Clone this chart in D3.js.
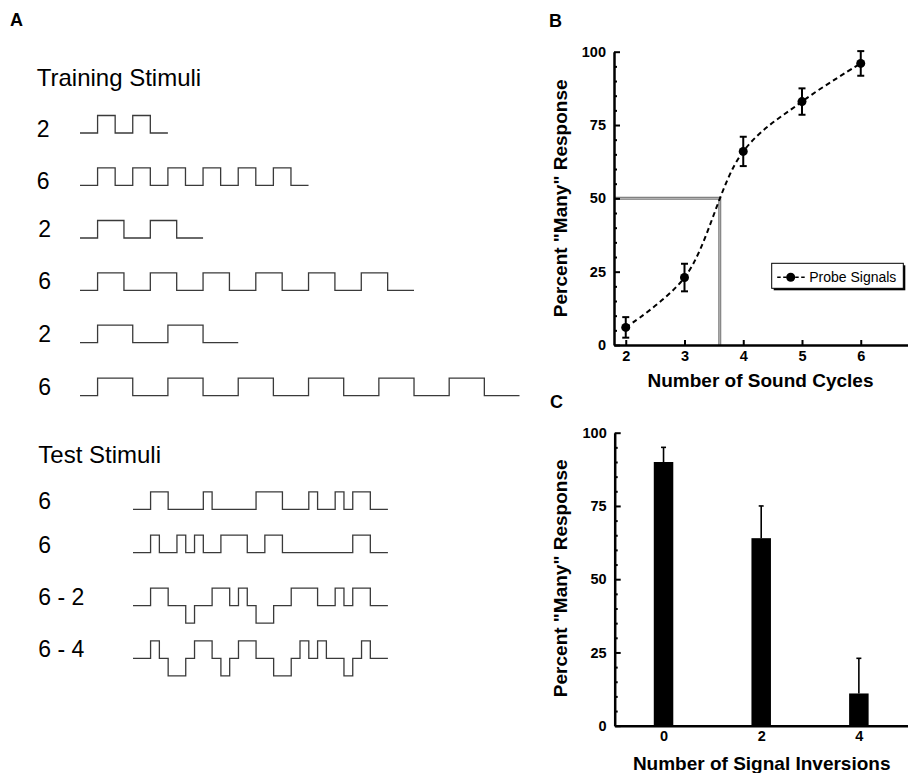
<!DOCTYPE html>
<html>
<head>
<meta charset="utf-8">
<script src="https://cdn.jsdelivr.net/npm/d3@7"></script>
<style>
  body { margin: 0; background: #fff; }
  svg { display: block; font-family: "Liberation Sans", Arial, Helvetica, sans-serif; }
  .axis path, .axis line { stroke: #000; }
  .axis text { font-weight: bold; font-size: 14.5px; fill: #000; }
  .wave { fill: none; stroke: #3a3a3a; stroke-width: 1.3; }
  .stimlabel { font-size: 23px; fill: #000; }
  .stimtitle { font-size: 24px; fill: #000; }
  .panel { font-size: 18px; font-weight: bold; }
  .axlabel { font-size: 19px; font-weight: bold; }
</style>
</head>
<body>
<svg width="908" height="773"></svg>
<script>
// ---- Data ----
// Panel A: stimuli as [level, duration] segments (level 1 = up, 0 = base, -1 = inverted)
const trainingLabels = ["2", "6", "2", "6", "2", "6"];
const trainingStimuli = [
  [[0,2],[1,2],[0,2],[1,2],[0,2]],
  [[0,2],[1,2],[0,2],[1,2],[0,2],[1,2],[0,2],[1,2],[0,2],[1,2],[0,2],[1,2],[0,2]],
  [[0,2],[1,3],[0,3],[1,3],[0,3]],
  [[0,2],[1,3],[0,3],[1,3],[0,3],[1,3],[0,3],[1,3],[0,3],[1,3],[0,3],[1,3],[0,3]],
  [[0,2],[1,4],[0,4],[1,4],[0,4]],
  [[0,2],[1,4],[0,4],[1,4],[0,4],[1,4],[0,4],[1,4],[0,4],[1,4],[0,4],[1,4],[0,4]]
];
const testLabels = ["6", "6", "6 - 2", "6 - 4"];
const testStimuli = [
  [[0,2],[1,2],[0,4],[1,1],[0,5],[1,3],[0,3],[1,1],[0,2],[1,1],[0,1],[1,2],[0,2]],
  [[0,2],[1,1],[0,2],[1,1],[0,1],[1,1],[0,2],[1,3],[0,2],[1,2],[0,8],[1,2],[0,2]],
  [[0,2],[1,2],[0,2],[-1,1],[0,2],[1,2],[0,1],[1,1],[0,1],[-1,2],[0,2],[1,3],[0,2],[1,1],[0,1],[1,2],[0,2]],
  [[0,2],[1,1],[0,1],[-1,2],[0,1],[1,2],[0,1],[-1,1],[0,1],[1,2],[0,2],[-1,2],[0,1],[1,1],[0,1],[1,1],[0,2],[-1,1],[0,1],[1,1],[0,2]]
];

// Panel B: probe signals
const cycles = [2, 3, 4, 5, 6];
const probeMean = [6, 23, 66, 83, 96];
const probeErr = [3.5, 4.7, 5, 4.5, 4.2];
const thresholdCycles = 3.6;
const thresholdPct = 50;

// Panel C: signal inversions
const inversions = [0, 2, 4];
const inversionMean = [90, 64, 11];
const inversionErr = [5, 11, 12];

const yTicks = [0, 25, 50, 75, 100];

// ---- Layout ----
const svg = d3.select("svg");
const unit = 8.79, amp = 17.5;
const trainBase = [133, 185.3, 238, 290.3, 342.7, 395.7];
const trainLabelY = [137, 189.3, 237, 289.3, 341.7, 395];
const testBase = [509.3, 552.7, 605.7, 658.3];
const testLabelY = [509.3, 553.3, 605, 656.7];

// Panel letters
svg.append("text").attr("class", "panel").attr("x", 10).attr("y", 26).text("A");
svg.append("text").attr("class", "panel").attr("x", 549).attr("y", 27).text("B");
svg.append("text").attr("class", "panel").attr("x", 550).attr("y", 408).text("C");

// ---- Panel A ----
function stepPoints(segs) {
  const pts = [];
  let t = 0;
  segs.forEach(([lv, d]) => { pts.push([t, lv]); t += d; });
  pts.push([t, segs[segs.length - 1][0]]);
  return pts;
}

function drawStimuli(stims, labels, bases, labelYs, x0, title, titleY, labelX) {
  svg.append("text").attr("class", "stimtitle").attr("x", labelX[0]).attr("y", titleY).text(title);
  const maxLen = d3.max(stims, s => d3.sum(s, d => d[1]));
  const x = d3.scaleLinear().domain([0, maxLen]).range([x0, x0 + maxLen * unit]);
  stims.forEach((s, i) => {
    const y = d3.scaleLinear().domain([-1, 1]).range([bases[i] + amp, bases[i] - amp]);
    const line = d3.line().x(d => x(d[0])).y(d => y(d[1])).curve(d3.curveStepAfter);
    svg.append("path").attr("class", "wave").attr("d", line(stepPoints(s)));
    svg.append("text").attr("class", "stimlabel")
      .attr("x", labelX[i + 1] !== undefined ? labelX[i + 1] : labelX[1])
      .attr("y", labelYs[i]).text(labels[i]);
  });
}

drawStimuli(trainingStimuli, trainingLabels, trainBase, trainLabelY, 80,
  "Training Stimuli", 86, [36.7, 36.7, 36.7, 38.3, 38.3, 38.3, 38.3]);
drawStimuli(testStimuli, testLabels, testBase, testLabelY, 133,
  "Test Stimuli", 463.3, [38.3, 38.3]);

// ---- Panel B ----
const xB = d3.scaleLinear().domain([1.8, 6.8]).range([614, 907.75]);
const yB = d3.scaleLinear().domain([0, 100]).range([345, 51.7]);

function yAxes(y, xPos) {
  svg.append("g").attr("class", "axis").attr("transform", `translate(${xPos},0)`)
    .call(d3.axisLeft(y).tickValues(d3.range(0, 101, 5).filter(v => v % 25)).tickSize(-3).tickFormat("").tickSizeOuter(0))
    .call(g => g.select(".domain").remove())
    .selectAll("line").attr("stroke-width", 2);
  svg.append("g").attr("class", "axis").attr("transform", `translate(${xPos},0)`)
    .call(d3.axisLeft(y).tickValues(yTicks).tickSize(-6).tickPadding(8).tickSizeOuter(0))
    .call(g => g.select(".domain").attr("stroke-width", 2.5))
    .call(g => g.selectAll("line").attr("stroke-width", 2));
}

// gray 50% reference lines
const refPath = d3.line()([[xB(1.8), yB(thresholdPct)], [xB(thresholdCycles), yB(thresholdPct)], [xB(thresholdCycles), yB(0)]]);
svg.append("path").attr("d", refPath).attr("fill", "none").attr("stroke", "#777").attr("stroke-width", 3);
svg.append("path").attr("d", refPath).attr("fill", "none").attr("stroke", "#bbb").attr("stroke-width", 1);

yAxes(yB, 614);
svg.append("g").attr("class", "axis").attr("transform", "translate(0,345)")
  .call(d3.axisBottom(xB).tickValues(cycles).tickFormat(d3.format("d")).tickSize(-5).tickPadding(6).tickSizeOuter(0))
  .call(g => g.select(".domain").attr("stroke-width", 2.5))
  .call(g => g.selectAll("line").attr("stroke-width", 2));

const probe = cycles.map((c, i) => ({ c, m: probeMean[i], e: probeErr[i] }));

svg.append("path")
  .attr("d", d3.line().x(d => xB(d.c)).y(d => yB(d.m)).curve(d3.curveCatmullRom.alpha(0.5))(probe))
  .attr("fill", "none").attr("stroke", "#000").attr("stroke-width", 2).attr("stroke-dasharray", "5,3.5");

const eb = svg.append("g").selectAll("g").data(probe).enter().append("g")
  .attr("stroke", "#000").attr("stroke-width", 2);
eb.append("line").attr("x1", d => xB(d.c)).attr("x2", d => xB(d.c))
  .attr("y1", d => yB(d.m - d.e)).attr("y2", d => yB(d.m + d.e));
eb.append("line").attr("x1", d => xB(d.c) - 3.5).attr("x2", d => xB(d.c) + 3.5)
  .attr("y1", d => yB(d.m + d.e)).attr("y2", d => yB(d.m + d.e));
eb.append("line").attr("x1", d => xB(d.c) - 3.5).attr("x2", d => xB(d.c) + 3.5)
  .attr("y1", d => yB(d.m - d.e)).attr("y2", d => yB(d.m - d.e));

svg.append("g").selectAll("circle").data(probe).enter().append("circle")
  .attr("cx", d => xB(d.c)).attr("cy", d => yB(d.m)).attr("r", 4.5).attr("fill", "#000");

// legend
const lg = svg.append("g").attr("transform", "translate(771.7,263.3)");
lg.append("rect").attr("x", 2).attr("y", 2).attr("width", 131.6).attr("height", 25).attr("fill", "#000");
lg.append("rect").attr("width", 131.6).attr("height", 25).attr("fill", "#fff").attr("stroke", "#000").attr("stroke-width", 1);
lg.append("line").attr("x1", 5.5).attr("x2", 35.5).attr("y1", 14).attr("y2", 14)
  .attr("stroke", "#000").attr("stroke-width", 1.5).attr("stroke-dasharray", "3.5,2.5");
lg.append("circle").attr("cx", 19).attr("cy", 14).attr("r", 4.5).attr("fill", "#000");
lg.append("text").attr("x", 37.5).attr("y", 19.2).attr("font-size", 14).text("Probe Signals");

svg.append("text").attr("class", "axlabel").attr("text-anchor", "middle")
  .attr("transform", "translate(567.3,198.3) rotate(-90)").text('Percent "Many" Response');
svg.append("text").attr("class", "axlabel").attr("text-anchor", "middle")
  .attr("x", 760.5).attr("y", 386.7).text("Number of Sound Cycles");

// ---- Panel C ----
const xC = d3.scaleLinear().domain([-1, 5]).range([614.7, 907.7]);
const yC = d3.scaleLinear().domain([0, 100]).range([725.7, 432.7]);
const barW = 19.5;
const inv = inversions.map((v, i) => ({ v, m: inversionMean[i], e: inversionErr[i] }));

const ebC = svg.append("g").selectAll("g").data(inv).enter().append("g")
  .attr("stroke", "#000").attr("stroke-width", 1.6);
ebC.append("line").attr("x1", d => xC(d.v)).attr("x2", d => xC(d.v))
  .attr("y1", d => yC(d.m)).attr("y2", d => yC(d.m + d.e));
ebC.append("line").attr("x1", d => xC(d.v) - 2.5).attr("x2", d => xC(d.v) + 2.5)
  .attr("y1", d => yC(d.m + d.e)).attr("y2", d => yC(d.m + d.e));

svg.append("g").selectAll("rect").data(inv).enter().append("rect")
  .attr("x", d => xC(d.v) - barW / 2).attr("width", barW)
  .attr("y", d => yC(d.m)).attr("height", d => yC(0) - yC(d.m)).attr("fill", "#000");

yAxes(yC, 614.7);
svg.append("g").attr("class", "axis").attr("transform", "translate(0,725.7)")
  .call(d3.axisBottom(xC).tickValues(inversions).tickFormat(d3.format("d")).tickSize(0).tickPadding(5).tickSizeOuter(0))
  .call(g => g.select(".domain").attr("stroke-width", 2.5));

svg.append("text").attr("class", "axlabel").attr("text-anchor", "middle")
  .attr("transform", "translate(567.3,578.3) rotate(-90)").text('Percent "Many" Response');
svg.append("text").attr("class", "axlabel").attr("text-anchor", "middle")
  .attr("x", 761.7).attr("y", 770).text("Number of Signal Inversions");
</script>
</body>
</html>
